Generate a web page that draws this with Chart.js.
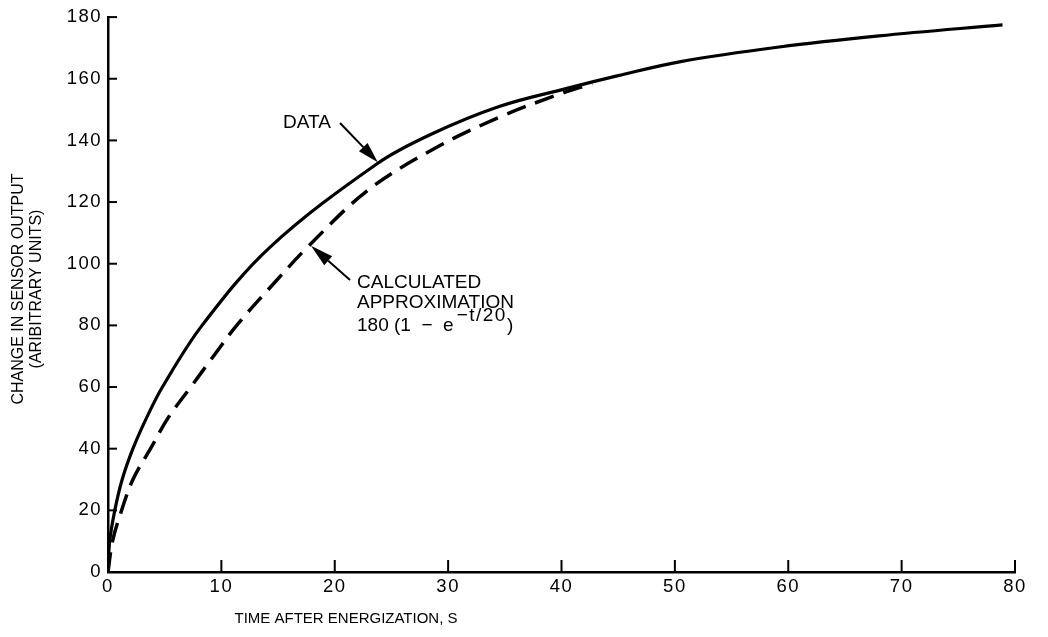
<!DOCTYPE html>
<html>
<head>
<meta charset="utf-8">
<script src="https://cdn.jsdelivr.net/npm/chart.js@4.4.1/dist/chart.umd.min.js"></script>
<style>
  html, body { margin: 0; padding: 0; background: #fff; }
  #wrap { width: 1048px; height: 637px; position: relative; }
</style>
</head>
<body>
<div id="wrap"><canvas id="c"></canvas></div>
<script>
// Measured sensor response (solid curve)
const dataTime  = [0, 0.15, 0.6, 1.25, 2.2, 3.4, 4.8, 8.3, 14.3, 23.8, 28.5, 34.5, 40.4, 45.0, 50.4, 59.2, 68.0, 78.9];
const dataValue = [0, 10, 20, 30, 40, 50, 60, 80, 105.4, 132.6, 142, 151, 156.8, 161, 165.5, 170.3, 173.9, 177.5];

// Calculated approximation 180(1 - e^-t/20) (dashed curve)
const calcTime  = [0, 0.4, 1.2, 2.2, 3.75, 5.3, 7.3, 9.3, 11.35, 14.6, 17.5, 22.8, 28.6, 34.5, 39.8, 42.7];
const calcValue = [0, 10, 20, 30, 40, 50, 60, 70, 80, 93.5, 105, 123.5, 137, 147.5, 155, 158.4];

// Axis ticks
const xTicks = [0, 10, 20, 30, 40, 50, 60, 70, 80];
const yTicks = [0, 20, 40, 60, 80, 100, 120, 140, 160, 180];

const FONT = '"Liberation Sans", Arial, Helvetica, sans-serif';

function toPoints(xs, ys) { return xs.map((x, i) => ({ x: x, y: ys[i] })); }

function arrow(ctx, x0, y0, x1, y1, headLen, headW) {
  const ang = Math.atan2(y1 - y0, x1 - x0);
  const bx = x1 - headLen * Math.cos(ang), by = y1 - headLen * Math.sin(ang);
  ctx.beginPath();
  ctx.moveTo(x0, y0);
  ctx.lineTo(bx, by);
  ctx.lineWidth = 2;
  ctx.stroke();
  const px = -Math.sin(ang) * headW / 2, py = Math.cos(ang) * headW / 2;
  ctx.beginPath();
  ctx.moveTo(x1, y1);
  ctx.lineTo(bx + px, by + py);
  ctx.lineTo(bx - px, by - py);
  ctx.closePath();
  ctx.fill();
}

// Wider tracking for the axis numbers
const tracking = {
  id: 'tracking',
  beforeDraw(chart) { chart.ctx.letterSpacing = '1.5px'; },
  beforeDatasetsDraw(chart) { chart.ctx.letterSpacing = '0px'; }
};

const decorations = {
  id: 'decorations',
  afterDraw(chart) {
    const ctx = chart.ctx;
    const xs = chart.scales.x, ys = chart.scales.y;
    const area = chart.chartArea;
    ctx.save();
    ctx.letterSpacing = '0px';
    ctx.strokeStyle = '#000';
    ctx.fillStyle = '#000';
    ctx.lineCap = 'butt';

    // inward tick marks
    ctx.lineWidth = 2;
    yTicks.forEach(v => {
      const y = ys.getPixelForValue(v);
      ctx.beginPath(); ctx.moveTo(area.left, y); ctx.lineTo(area.left + 9, y); ctx.stroke();
    });
    xTicks.slice(1).forEach(v => {
      const x = xs.getPixelForValue(v);
      ctx.beginPath(); ctx.moveTo(x, area.bottom); ctx.lineTo(x, area.bottom - 12); ctx.stroke();
    });

    // axis titles
    ctx.textAlign = 'center';
    ctx.textBaseline = 'middle';
    ctx.font = '15px ' + FONT;
    ctx.fillText('TIME AFTER ENERGIZATION, S', 346, 619);
    ctx.save();
    ctx.translate(19, 289);
    ctx.rotate(-Math.PI / 2);
    ctx.font = '16px ' + FONT;
    ctx.fillText('CHANGE IN SENSOR OUTPUT', 0, 0);
    ctx.fillText('(ARIBITRARY UNITS)', 0, 18);
    ctx.restore();

    // curve labels
    ctx.font = '19px ' + FONT;
    ctx.textAlign = 'left';
    ctx.fillText('DATA', 283, 123);
    const dTipX = xs.getPixelForValue(23.8), dTipY = ys.getPixelForValue(132.6);
    arrow(ctx, 340, 123, dTipX, dTipY - 1, 21, 12);

    ctx.fillText('CALCULATED', 357, 283);
    ctx.fillText('APPROXIMATION', 357, 303);
    const base = '180 (1  \u2212  e';
    ctx.fillText(base, 357, 326);
    const w = ctx.measureText(base).width;
    ctx.letterSpacing = '1.5px';
    const sup = '\u2212t/20';
    ctx.fillText(sup, 357 + w + 3, 316);
    const w2 = ctx.measureText(sup).width;
    ctx.letterSpacing = '0px';
    ctx.fillText(')', 357 + w + 3 + w2, 326);
    const cTipX = xs.getPixelForValue(17.9), cTipY = ys.getPixelForValue(106.5);
    arrow(ctx, 350, 280, cTipX, cTipY + 2, 23, 12);

    ctx.restore();
  }
};

new Chart(document.getElementById('c'), {
  type: 'scatter',
  data: {
    datasets: [
      {
        label: 'DATA',
        data: toPoints(dataTime, dataValue),
        showLine: true,
        borderColor: '#000',
        borderWidth: 3.2,
        pointRadius: 0,
        tension: 0.35
      },
      {
        label: 'CALCULATED APPROXIMATION',
        data: toPoints(calcTime, calcValue),
        showLine: true,
        borderColor: '#000',
        borderWidth: 3.5,
        borderDash: [20, 10],
        pointRadius: 0,
        tension: 0.35
      }
    ]
  },
  options: {
    responsive: true,
    maintainAspectRatio: false,
    devicePixelRatio: 1,
    animation: false,
    layout: { padding: { top: 13, right: 33, left: 0, bottom: 0 } },
    plugins: { legend: { display: false }, tooltip: { enabled: false } },
    scales: {
      x: {
        type: 'linear',
        min: 0, max: 80,
        afterBuildTicks: s => { s.ticks = xTicks.map(v => ({ value: v })); },
        afterFit: s => { s.height = 65; },
        grid: { display: false, drawTicks: false },
        border: { display: true, color: '#000', width: 2.5 },
        ticks: { color: '#000', font: { family: FONT, size: 18.5 }, padding: 4, maxRotation: 0 }
      },
      y: {
        type: 'linear',
        min: 0, max: 180,
        afterBuildTicks: s => { s.ticks = yTicks.map(v => ({ value: v })); },
        afterFit: s => { s.width = 108; },
        grid: { display: false, drawTicks: false },
        border: { display: true, color: '#000', width: 2.5 },
        ticks: { color: '#000', font: { family: FONT, size: 18.5 }, padding: 6 }
      }
    }
  },
  plugins: [tracking, decorations]
});
</script>
</body>
</html>
